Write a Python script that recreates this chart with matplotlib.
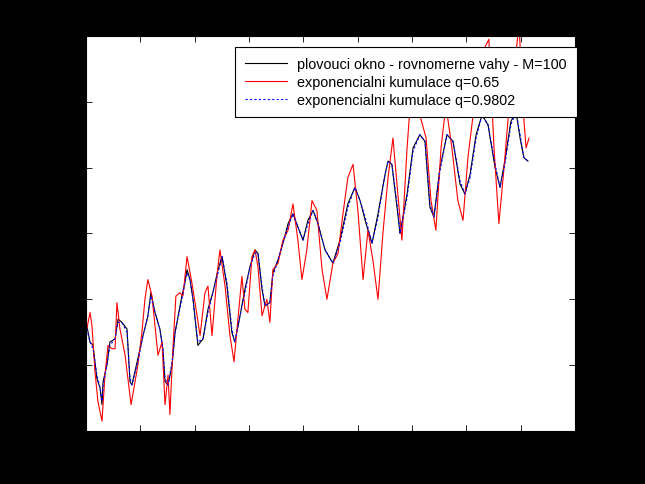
import matplotlib
matplotlib.use('Agg')
import matplotlib.pyplot as plt

plt.rcParams['font.family'] = ['Liberation Sans', 'DejaVu Sans']

# plovouci okno (M=100)
x_okno = [3, 15, 26, 40, 52, 59, 63, 77, 88, 107, 118, 132, 151, 162, 169, 191, 210, 228, 239, 254,
          272, 283, 291, 302, 317, 328, 353, 364, 372, 383, 394, 412, 431, 449, 467, 486, 501, 519, 537, 548,
          567, 585, 604, 622, 633, 648, 659, 677, 688, 707,
          725, 744, 762, 780, 799, 817, 836, 854, 880, 909, 935, 964, 990, 1009, 1031, 1053, 1075, 1101, 1112, 1126,
          1145, 1156, 1182, 1204, 1229, 1248, 1266, 1281, 1303, 1329, 1351, 1377, 1395, 1414, 1436, 1458, 1480, 1506,
          1524, 1542, 1564, 1583, 1598, 1612, 1627]
y_okno = [3.132, 3.127, 3.126, 3.116, 3.113, 3.108, 3.115, 3.120, 3.127, 3.128, 3.134, 3.133, 3.131, 3.115, 3.114,
          3.122, 3.129, 3.135, 3.142, 3.136, 3.131, 3.125, 3.115, 3.114, 3.120, 3.130, 3.141, 3.145, 3.149, 3.146,
          3.140, 3.126, 3.128, 3.137, 3.142, 3.149, 3.153, 3.144, 3.130, 3.127, 3.135, 3.143, 3.150, 3.155, 3.154,
          3.143, 3.138, 3.139, 3.148, 3.152,
          3.157, 3.163, 3.166, 3.162, 3.158, 3.164, 3.167, 3.163, 3.155, 3.151, 3.158, 3.169, 3.174, 3.170, 3.163,
          3.157, 3.166, 3.178, 3.182, 3.181, 3.168, 3.160, 3.172, 3.186, 3.190, 3.188, 3.168, 3.165, 3.180, 3.190,
          3.188, 3.175, 3.172, 3.178, 3.190, 3.196, 3.193, 3.180, 3.174, 3.182, 3.194, 3.197, 3.189, 3.183, 3.182]

# exponencialni kumulace q=0.65
x_q065 = [3, 15, 22, 33, 44, 59, 70, 81, 96, 107, 114, 125, 144, 166, 191, 206, 217, 228, 243, 265,
          280, 291, 302, 309, 320, 331, 346, 357, 372, 390, 409, 420, 438, 449, 464, 482, 493, 512, 530, 545,
          556, 574, 585, 596, 611, 622, 633, 648, 666, 677, 688, 707,
          725, 744, 762, 780, 795, 813, 832, 850, 869, 887, 909, 928, 946, 964, 983, 1001, 1020, 1038, 1056, 1075,
          1093, 1112, 1130, 1148, 1163, 1182, 1196, 1215, 1229, 1252, 1270, 1288, 1307, 1325, 1347, 1369, 1388, 1406,
          1428, 1447, 1465, 1483, 1502, 1520, 1539, 1557, 1575, 1594, 1609, 1620, 1631]
y_q065 = [3.131, 3.136, 3.132, 3.118, 3.109, 3.103, 3.117, 3.126, 3.125, 3.125, 3.139, 3.131, 3.123, 3.108, 3.120,
          3.130, 3.140, 3.146, 3.141, 3.123, 3.127, 3.108, 3.117, 3.105, 3.125, 3.141, 3.142, 3.141, 3.153, 3.145,
          3.135, 3.129, 3.142, 3.144, 3.129, 3.147, 3.155, 3.144, 3.129, 3.121, 3.131, 3.147, 3.137, 3.136, 3.153,
          3.155, 3.150, 3.135, 3.140, 3.133, 3.149, 3.151,
          3.158, 3.161, 3.169, 3.158, 3.146, 3.155, 3.170, 3.167, 3.149, 3.140, 3.151, 3.154, 3.166, 3.177, 3.181,
          3.167, 3.146, 3.161, 3.152, 3.140, 3.160, 3.177, 3.189, 3.172, 3.158, 3.186, 3.202, 3.210, 3.196, 3.189,
          3.170, 3.161, 3.186, 3.199, 3.186, 3.170, 3.164, 3.183, 3.198, 3.210, 3.216, 3.219, 3.186, 3.163, 3.180,
          3.198, 3.208, 3.224, 3.198, 3.186, 3.189]

# exponencialni kumulace q=0.9802
x_q098 = [3, 15, 26, 40, 52, 59, 63, 77, 88, 107, 118, 132, 151, 162, 169, 191, 210, 228, 239, 254,
          272, 283, 291, 302, 317, 328, 353, 364, 372, 383, 394, 412, 431, 449, 467, 486, 501, 519, 537, 548,
          567, 585, 604, 622, 633, 648, 659, 677, 688, 707,
          725, 744, 762, 780, 799, 817, 836, 854, 880, 909, 935, 964, 990, 1009, 1031, 1053, 1075, 1101, 1112, 1126,
          1145, 1156, 1182, 1204, 1229, 1248, 1266, 1281, 1303, 1329, 1351, 1377, 1395, 1414, 1436, 1458, 1480, 1506,
          1524, 1542, 1564, 1583, 1598, 1612, 1627]
y_q098 = [3.131, 3.127, 3.125, 3.117, 3.113, 3.109, 3.114, 3.120, 3.126, 3.128, 3.133, 3.133, 3.130, 3.116, 3.114,
          3.121, 3.129, 3.135, 3.141, 3.136, 3.131, 3.125, 3.116, 3.114, 3.121, 3.130, 3.140, 3.145, 3.148, 3.146,
          3.140, 3.127, 3.128, 3.136, 3.142, 3.148, 3.153, 3.145, 3.131, 3.127, 3.135, 3.142, 3.150, 3.154, 3.154,
          3.144, 3.138, 3.139, 3.147, 3.152,
          3.157, 3.162, 3.166, 3.162, 3.158, 3.163, 3.167, 3.163, 3.155, 3.151, 3.157, 3.168, 3.174, 3.170, 3.164,
          3.157, 3.165, 3.178, 3.182, 3.181, 3.169, 3.160, 3.171, 3.185, 3.190, 3.188, 3.169, 3.165, 3.179, 3.190,
          3.188, 3.176, 3.172, 3.177, 3.189, 3.196, 3.193, 3.181, 3.174, 3.181, 3.193, 3.197, 3.190, 3.183, 3.182]

x_ticks = [0, 200, 400, 600, 800, 1000, 1200, 1400, 1600, 1800]
y_ticks = [3.10, 3.12, 3.14, 3.16, 3.18, 3.20, 3.22]

fig = plt.figure(figsize=(6.45, 4.85), dpi=100, facecolor='k')
ax = fig.add_axes([0.1333, 0.1093, 0.7581, 0.8144])
ax.set_facecolor('w')

ax.plot(x_okno, y_okno, color='k', lw=0.8, label='plovouci okno - rovnomerne vahy - M=100')
ax.plot(x_q065, y_q065, color='r', lw=0.8, label='exponencialni kumulace q=0.65')
ax.plot(x_q098, y_q098, color='b', lw=0.8, ls='--', dashes=(2, 2), label='exponencialni kumulace q=0.9802')

ax.set_xlim(0, 1800)
ax.set_ylim(3.10, 3.22)
ax.set_xticks(x_ticks)
ax.set_yticks(y_ticks)
ax.set_yticklabels(['%.2f' % v for v in y_ticks])
ax.tick_params(direction='in', top=True, right=True, colors='k', labelsize=8, length=4, width=0.6)
for s in ax.spines.values():
    s.set_color('k')

ax.set_title('prubeh vyhlazeneho signalu a casove rady', color='k', fontsize=8, pad=8)

leg = ax.legend(loc='upper right', bbox_to_anchor=(0.8946, 0.901), bbox_transform=fig.transFigure,
                borderaxespad=0, fancybox=False, framealpha=1, edgecolor='k', fontsize=10.4,
                handlelength=2.9, handletextpad=0.75, labelspacing=0.28, borderpad=0.7)
leg.get_frame().set_linewidth(0.8)

plt.savefig('out.png', dpi=100, facecolor='k')
